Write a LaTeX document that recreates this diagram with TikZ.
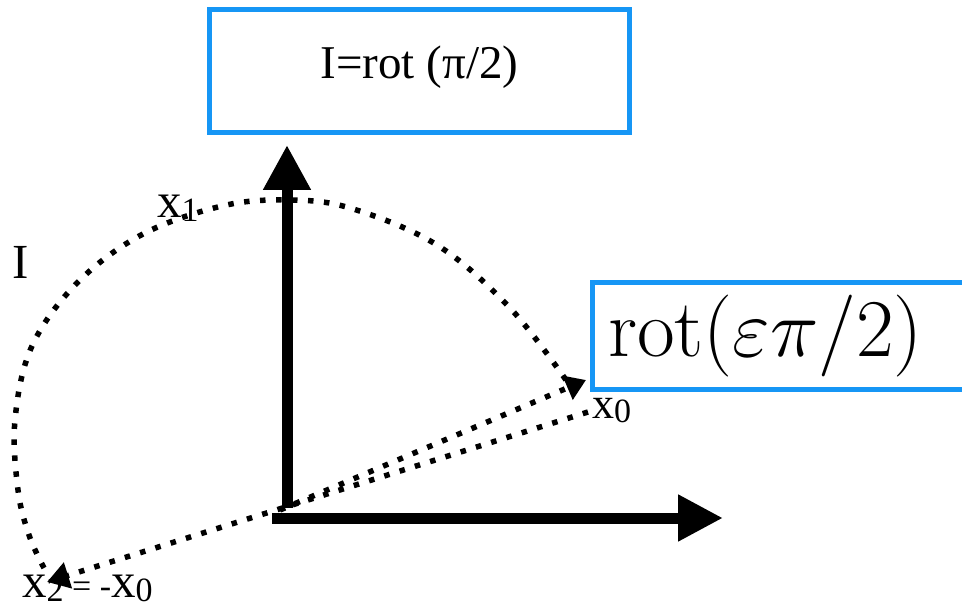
\RequirePackage{fix-cm}
\documentclass[tikz,border=0pt]{standalone}
\usepackage{fontspec}
\newfontfamily\tnr{Liberation Serif}
\usetikzlibrary{arrows.meta}
\definecolor{boxblue}{RGB}{22,150,245}
\tikzset{bluebox/.style={draw=boxblue, line width=5pt, inner sep=0pt}}
\tikzset{axis/.style={line width=11pt, -{Triangle[length=45pt, width=45pt]}}}
\tikzset{dotline/.style={line width=5.5pt, line cap=butt, dash pattern=on 5.5pt off 10.5pt}}
\tikzset{lbl/.style={font=\tnr\fontsize{49}{49}\selectfont, inner sep=0pt, anchor=base west}}
\newcommand{\sub}[1]{\raisebox{-4pt}{\fontsize{34}{34}\selectfont #1}}

\begin{document}
\begin{tikzpicture}[x=1pt, y=-1pt]
\useasboundingbox (0,0) rectangle (962,607);
\clip (0,0) rectangle (962,607);
\node[bluebox, minimum width=420pt, minimum height=123pt, text depth=18pt, font=\tnr\fontsize{47}{47}\selectfont] (irot) at (419.5,71) {I=rot (π/2)};
\node[bluebox, anchor=west, minimum height=107pt, text width=400pt, inner xsep=16pt, align=left, font=\fontsize{82}{82}\selectfont] (erot) at (589.5,336) {$\mathrm{rot}(\varepsilon\pi/2)$};
\coordinate (o) at (280,510);
\coordinate (ybot) at (287,508);
\coordinate (ytip) at (287,145);
\coordinate (xbot) at (272,518);
\coordinate (xtip) at (723,518);
\coordinate (x0) at (588,412);
\coordinate (x2) at (47,582);
\coordinate (xe) at (586,380);
\draw[axis] (ybot) -- (ytip);
\draw[axis, -{Triangle[length=45pt, width=44pt]}] (xbot) -- (xtip);
\draw[dotline, -{Triangle[length=20pt, width=25pt]}] (o) -- (xe);
\draw[dotline, -{Triangle[length=22pt, width=26pt]}] (x0) -- (x2);
\draw[dotline] plot[smooth, tension=0.6] coordinates {(566,380) (510,308) (437,245) (350,208) (287,200) (222,206) (143,234) (78,282) (32,346) (15,420) (18,490) (29,535) (44,568)};
\node[lbl] (lx1) at (157,218) {x\sub{1}};
\node[lbl] (lI) at (12,278) {I};
\node[lbl, font=\tnr\fontsize{44}{44}\selectfont] (lx0) at (592,418) {x\sub{0}};
\node[lbl] (lx2) at (22,597) {x\sub{2}{\fontsize{34}{34}\selectfont{} = -}x\sub{0}};
\end{tikzpicture}
\end{document}
